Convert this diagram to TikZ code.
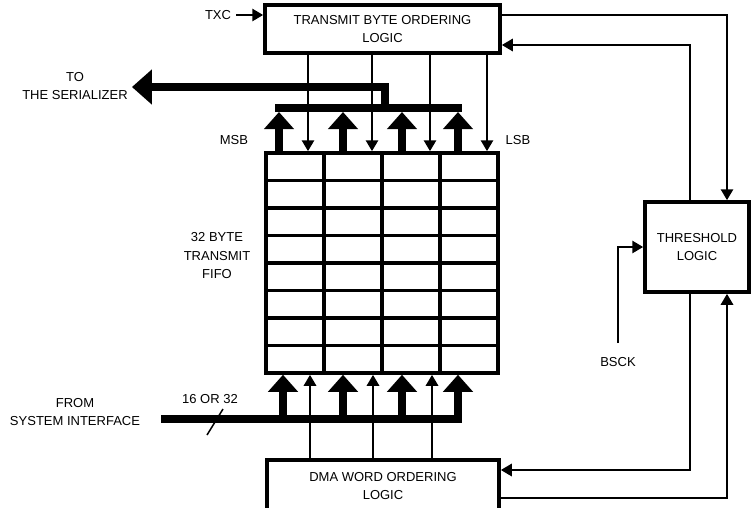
\documentclass[tikz,border=0pt]{standalone}
\usepackage{fontspec}
\setmainfont{Liberation Sans}
\usetikzlibrary{arrows.meta}
\begin{document}
\begin{tikzpicture}[x=1pt,y=-1pt,
  lbl/.style={font=\fontsize{13}{18.5}\selectfont, align=center, inner sep=0pt},
  box/.style={draw, line width=3.5pt, inner sep=0pt, align=center, font=\fontsize{13}{18.5}\selectfont},
  thinline/.style={line width=2.8pt},
  tarr/.style={thinline, -{Triangle[width=12pt,length=11pt]}},
  bus/.style={line width=8pt},
  barr/.style={bus, -{Triangle[width=29pt,length=17pt]}}
]
\useasboundingbox (0,0) rectangle (752,507);
\clip (0,0) rectangle (752,507);

% boxes
\node[box, minimum width=235pt, minimum height=48pt] (tbo) at (382.5,29) {TRANSMIT BYTE ORDERING\\LOGIC};
\node[box, minimum width=232pt, minimum height=220pt] (fifo) at (382,263) {};
\node[box, minimum width=232pt, minimum height=52pt] (dma) at (383,486) {DMA WORD ORDERING\\LOGIC};
\node[box, minimum width=104pt, minimum height=90pt] (thr) at (697,247) {THRESHOLD\\LOGIC};

% fifo grid
\foreach \x in {324,382,440} \draw[line width=3.5pt] (\x,0 |- fifo.north) -- (\x,0 |- fifo.south);
\foreach \y in {180.5,208,235.5,263,290.5,318,345.5} \draw[line width=3.5pt] (fifo.west |- 0,\y) -- (fifo.east |- 0,\y);

% labels
\node[lbl] (txc) at (218,15) {TXC};
\node[lbl] (toser) at (75,86) {TO\\THE SERIALIZER};
\node[lbl] (msb) at (234,140) {MSB};
\node[lbl] (lsb) at (518,140) {LSB};
\node[lbl] (fifolbl) at (217,256) {32 BYTE\\TRANSMIT\\FIFO};
\node[lbl] (width) at (210,399) {16 OR 32};
\node[lbl] (fromsys) at (75,412) {FROM\\SYSTEM INTERFACE};
\node[lbl] (bscklbl) at (618,362) {BSCK};

% TXC
\draw[tarr] ([xshift=5pt]txc.east) -- (tbo.west |- txc);

% output bus to serializer
\coordinate (busL) at (275,108);
\coordinate (busR) at (462,108);
\draw[bus] (busL) -- (busR);
\draw[bus, line join=miter, -{Triangle[width=34pt,length=20pt]}] (385,108) -- (385,87) -- ([xshift=4pt]toser.east |- 0,87);
\foreach \x in {279,343,402,458} \draw[barr] (\x,0 |- fifo.north) -- (\x,112);
\foreach \x in {308,372,430,487} \draw[tarr] (\x,0 |- tbo.south) -- (\x,0 |- fifo.north);

% input bus from system interface
\coordinate (inL) at (161,419);
\coordinate (inR) at (462,419);
\draw[bus] (inL) -- (inR);
\foreach \x in {283,343,402,458} \draw[barr] (\x,419) -- (\x,0 |- fifo.south);
\foreach \x in {310,373,432} \draw[tarr] (\x,0 |- dma.north) -- (\x,0 |- fifo.south);
\draw[line width=1.5pt] (207,435) -- (223,409);

% threshold connections
\draw[tarr] (tbo.east |- 0,15) -- (727,15) -- (727,0 |- thr.north);
\draw[tarr] (690,0 |- thr.north) -- (690,45) -- (tbo.east |- 0,45);
\coordinate (bsck) at (618,343);
\draw[tarr] (bsck) -- (618,247) -- (thr.west |- 0,247);
\draw[tarr] (690,0 |- thr.south) -- (690,470) -- (dma.east |- 0,470);
\draw[tarr] (dma.east |- 0,498) -- (727,498) -- (727,0 |- thr.south);
\end{tikzpicture}
\end{document}
